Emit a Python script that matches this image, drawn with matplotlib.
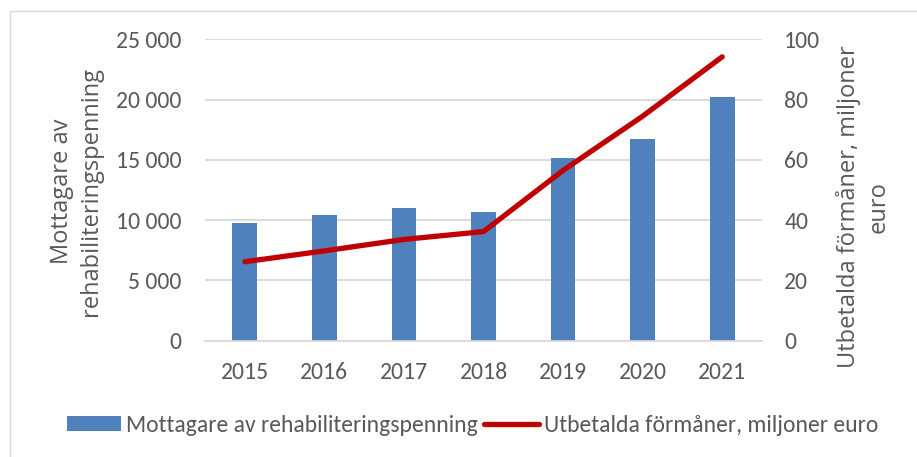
import matplotlib.pyplot as plt
import matplotlib.patches as mpatches
import numpy as np

years = ['2015', '2016', '2017', '2018', '2019', '2020', '2021']
mottagare = [9760, 10430, 10980, 10680, 15150, 16700, 20200]
utbetalda = [26.2, 29.8, 33.6, 36.2, 56.5, 74.5, 94.2]

bar_color = '#4F81BD'
line_color = '#C00000'
txt = '#595959'
tick_font = ['Carlito', 'Liberation Sans Narrow', 'DejaVu Sans']
lab_font = ['Open Sans', 'DejaVu Sans']

fig = plt.figure(figsize=(9.17, 4.57), dpi=100)
ax = fig.add_axes([0.2236, 0.2545, 0.6074, 0.6595])
ax2 = ax.twinx()

x = np.arange(len(years))
ax.bar(x, mottagare, width=0.31, color=bar_color, zorder=2,
       label='Mottagare av rehabiliteringspenning')
ax2.plot(x, utbetalda, color=line_color, lw=3.8, solid_capstyle='round',
         solid_joinstyle='round', label='Utbetalda förmåner, miljoner euro')

ax.set_xlim(-0.5, 6.5)
ax.set_ylim(0, 25000)
ax2.set_ylim(0, 100)
ax.set_yticks(np.arange(0, 25001, 5000))
ax2.set_yticks(np.arange(0, 101, 20))
ax.set_yticklabels(['0', '5 000', '10 000', '15 000', '20 000', '25 000'])
ax.set_xticks(x)
ax.set_xticklabels(years)

ax.grid(axis='y', color='#D9D9D9', lw=1.3, zorder=0)
ax.set_axisbelow(True)
for a in (ax, ax2):
    for s in a.spines.values():
        s.set_visible(False)
    a.tick_params(length=0, colors=txt, labelsize=17)
    for lbl in a.get_xticklabels() + a.get_yticklabels():
        lbl.set_family(tick_font)
ax.spines['bottom'].set_visible(True)
ax.spines['bottom'].set_color('#D9D9D9')
ax.spines['bottom'].set_linewidth(1.3)
ax.tick_params(axis='x', pad=15)
ax.tick_params(axis='y', pad=17)
ax2.tick_params(axis='y', pad=16)

ax.set_ylabel('Mottagare av\nrehabiliteringspenning', fontsize=17, color=txt,
              family=lab_font, linespacing=1.25)
ax.yaxis.set_label_coords(-0.184, 0.495)
ax2.set_ylabel('Utbetalda förmåner, miljoner\neuro', fontsize=17, color=txt,
               family=lab_font, linespacing=1.3, rotation=90)
ax2.yaxis.set_label_coords(1.133, 0.4436)

h1, l1 = ax.get_legend_handles_labels()
h2, l2 = ax2.get_legend_handles_labels()
leg = fig.legend(h1 + h2, l1 + l2, loc='center', bbox_to_anchor=(0.515, 0.07),
                 ncol=2, frameon=False, handlelength=2.3,
                 handleheight=0.6, handletextpad=0.2, columnspacing=0.3,
                 prop={'family': tick_font, 'size': 17})
for t in leg.get_texts():
    t.set_color(txt)

fig.patches.append(mpatches.Rectangle((10 / 917, -0.1), 1.2, 1 - 11 / 457 + 0.1,
                                      transform=fig.transFigure, fill=False,
                                      edgecolor='#D9D9D9', lw=1))

fig.savefig('out.png', dpi=100)
